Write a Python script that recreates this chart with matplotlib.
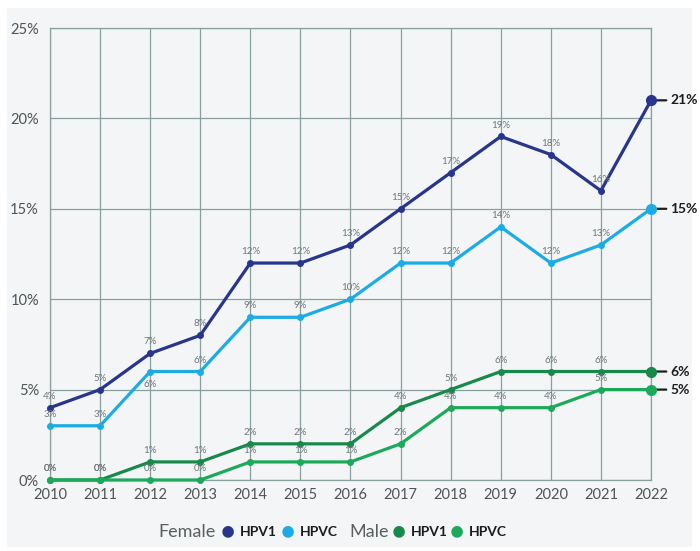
import matplotlib.pyplot as plt
from matplotlib.patches import Rectangle

plt.rcParams["font.family"] = ["Lato", "DejaVu Sans"]

years = list(range(2010, 2023))
female_hpv1 = [4, 5, 7, 8, 12, 12, 13, 15, 17, 19, 18, 16, 21]
female_hpvc = [3, 3, 6, 6, 9, 9, 10, 12, 12, 14, 12, 13, 15]
male_hpv1 = [0, 0, 1, 1, 2, 2, 2, 4, 5, 6, 6, 6, 6]
male_hpvc = [0, 0, 0, 0, 1, 1, 1, 2, 4, 4, 4, 5, 5]
yticks = [0, 5, 10, 15, 20, 25]

c_f1 = '#27358c'
c_fc = '#1cabe3'
c_m1 = '#17894a'
c_mc = '#1ca95a'
grid_c = '#86a09e'
lab_c = '#70767a'

fig = plt.figure(figsize=(7, 5.51), dpi=100, facecolor='white')
fig.add_artist(Rectangle((7 / 700, 1 - 547 / 551), 685 / 700, 539 / 551,
                         transform=fig.transFigure, facecolor='#f3f5f6',
                         edgecolor='none', zorder=0))
ax = fig.add_axes([50 / 700, 1 - 480 / 551, 601 / 700, 452 / 551])
ax.set_facecolor('none')

series = [
    (female_hpv1, c_f1),
    (female_hpvc, c_fc),
    (male_hpv1, c_m1),
    (male_hpvc, c_mc),
]
for vals, col in series:
    ax.plot(years, vals, color=col, lw=2.3, marker='o', ms=4, clip_on=False, zorder=3)
    ax.plot(years[-1:], vals[-1:], color=col, marker='o', ms=7, ls='none',
            clip_on=False, zorder=4)
    for x, v in zip(years[:-1], vals[:-1]):
        dy = 5
        va = 'bottom'
        if col == c_fc and x == 2012:
            dy, va = -6, 'top'
        ax.annotate(f'{v}%', (x, v), xytext=(0, dy), textcoords='offset points',
                    ha='center', va=va, fontsize=7, color=lab_c, zorder=5)
    ax.annotate(f'{vals[-1]}%', (years[-1], vals[-1]), xytext=(14, 0),
                textcoords='offset points', ha='left', va='center',
                fontsize=10, fontweight='bold', color='#1d1d1d',
                arrowprops=dict(arrowstyle='-', color='#1d1d1d', lw=1.6,
                                shrinkA=1, shrinkB=3))

ax.set_xlim(2010, 2022)
ax.set_ylim(0, 25)
ax.set_xticks(years)
ax.set_yticks(yticks)
ax.set_yticklabels([f'{t}%' for t in yticks])
ax.tick_params(length=0, labelsize=10.5, labelcolor='#4f5456', pad=6)
ax.tick_params(axis='y', pad=8)
ax.grid(True, color=grid_c, lw=0.9)
for s in ax.spines.values():
    s.set_color(grid_c)
    s.set_linewidth(0.9)

# legend row
ly = 1 - 532 / 551
fig.text(158 / 700, ly, 'Female', fontsize=13, color='#5a5e60', va='center')
fig.text(221 / 700, ly, '●', fontsize=17, color=c_f1, va='center')
fig.text(240 / 700, ly, 'HPV1', fontsize=10, fontweight='bold', color='#1d1d1d', va='center')
fig.text(281 / 700, ly, '●', fontsize=17, color=c_fc, va='center')
fig.text(300 / 700, ly, 'HPVC', fontsize=10, fontweight='bold', color='#1d1d1d', va='center')
fig.text(349 / 700, ly, 'Male', fontsize=13, color='#5a5e60', va='center')
fig.text(392 / 700, ly, '●', fontsize=17, color=c_m1, va='center')
fig.text(411 / 700, ly, 'HPV1', fontsize=10, fontweight='bold', color='#1d1d1d', va='center')
fig.text(450 / 700, ly, '●', fontsize=17, color=c_mc, va='center')
fig.text(469 / 700, ly, 'HPVC', fontsize=10, fontweight='bold', color='#1d1d1d', va='center')

fig.savefig('out.png', dpi=100)
